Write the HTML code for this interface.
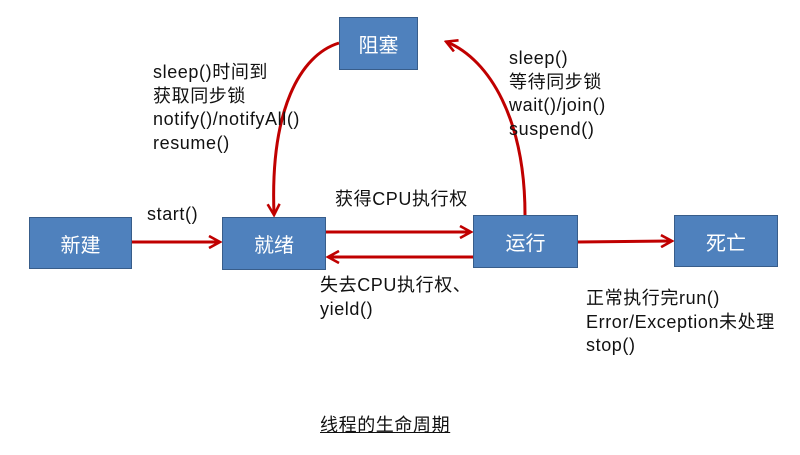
<!DOCTYPE html>
<html><head><meta charset="utf-8"><style>
body{margin:0;width:800px;height:455px;background:#fff;overflow:hidden;position:relative;font-family:"Liberation Sans","Noto Sans CJK SC",sans-serif;}
.b{position:absolute;background:#4f81bd;border:1px solid #385d8a;color:#fff;font-size:20px;display:flex;align-items:center;justify-content:center;box-sizing:border-box;}
.t{position:absolute;font-size:18px;letter-spacing:0.6px;line-height:23.5px;color:#111;white-space:nowrap;}
</style></head><body>
<svg width="800" height="455" style="position:absolute;left:0;top:0">
<defs><marker id="a" markerWidth="14" markerHeight="14" refX="11" refY="7" orient="auto" markerUnits="userSpaceOnUse"><path d="M1,1 L12,7 L1,13" fill="none" stroke="#c00000" stroke-width="2.6"/></marker></defs>
<g stroke="#c00000" stroke-width="3" fill="none">
<line x1="132" y1="242" x2="219" y2="242" marker-end="url(#a)"/>
<line x1="326" y1="232" x2="470" y2="232" marker-end="url(#a)"/>
<line x1="473" y1="257" x2="329" y2="257" marker-end="url(#a)"/>
<line x1="578" y1="242" x2="671" y2="241" marker-end="url(#a)"/>
<path d="M525,215 C525,120 490,60 447,42" marker-end="url(#a)"/>
<path d="M339,43 C300,55 270,110 274,214" marker-end="url(#a)"/>
</g></svg>
<div class="b" style="left:339px;top:17px;width:79px;height:53px">阻塞</div>
<div class="b" style="left:29px;top:217px;width:103px;height:52px">新建</div>
<div class="b" style="left:222px;top:217px;width:104px;height:53px">就绪</div>
<div class="b" style="left:473px;top:215px;width:105px;height:53px">运行</div>
<div class="b" style="left:674px;top:215px;width:104px;height:52px">死亡</div>
<div class="t" style="left:153px;top:61px">sleep()时间到<br>获取同步锁<br>notify()/notifyAll()<br>resume()</div>
<div class="t" style="left:509px;top:47px">sleep()<br>等待同步锁<br>wait()/join()<br>suspend()</div>
<div class="t" style="left:147px;top:203px">start()</div>
<div class="t" style="left:335px;top:188px">获得CPU执行权</div>
<div class="t" style="left:320px;top:274px">失去CPU执行权、<br>yield()</div>
<div class="t" style="left:586px;top:287px">正常执行完run()<br>Error/Exception未处理<br>stop()</div>
<div class="t" style="left:320px;top:414px;text-decoration:underline">线程的生命周期</div>
</body></html>
